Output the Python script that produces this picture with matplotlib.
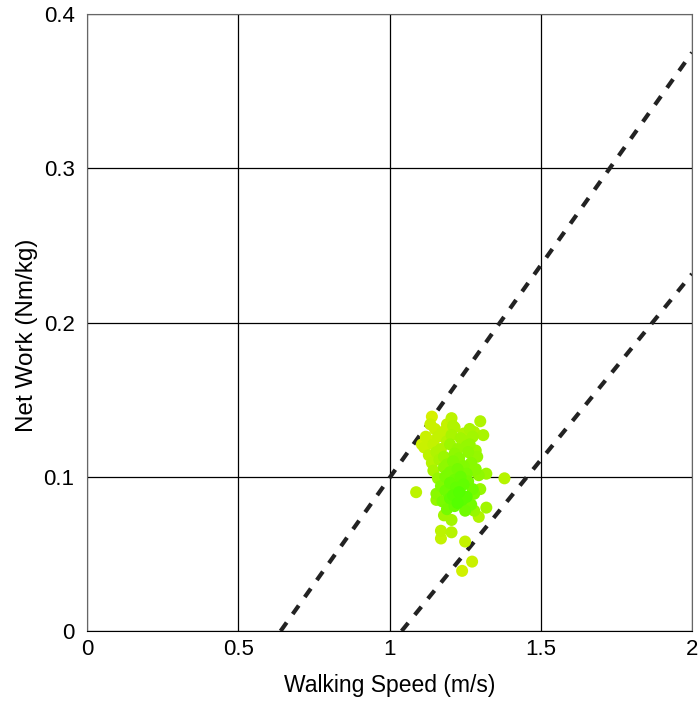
import matplotlib.pyplot as plt
import numpy as np
from matplotlib.colors import LinearSegmentedColormap

plt.rcParams['font.family'] = ['Liberation Sans', 'DejaVu Sans']

# walking speed (m/s), net work (Nm/kg), colour value (0 = green, 1 = yellow)
speed = [1.14, 1.205, 1.19, 1.30, 1.31, 1.107, 1.12, 1.32, 1.38, 1.088,
         1.30, 1.32, 1.295, 1.18, 1.205, 1.17, 1.17, 1.205, 1.25, 1.273,
         1.24, 1.26, 1.28,
         1.15, 1.175, 1.215, 1.245, 1.265, 1.28,
         1.125, 1.16, 1.19, 1.205, 1.235, 1.25, 1.275,
         1.115, 1.145, 1.17, 1.20, 1.225, 1.255, 1.285,
         1.13, 1.155, 1.18, 1.215, 1.23, 1.26, 1.29,
         1.14, 1.165, 1.19, 1.21, 1.245, 1.27,
         1.145, 1.18, 1.20, 1.225, 1.255, 1.285,
         1.16, 1.19, 1.215, 1.235, 1.26, 1.295,
         1.17, 1.20, 1.22, 1.245, 1.275,
         1.155, 1.185, 1.21, 1.23, 1.255, 1.28,
         1.175, 1.20, 1.225, 1.24, 1.27,
         1.19, 1.215, 1.25,
         1.135, 1.21, 1.265, 1.185, 1.24, 1.155, 1.275]
work = [0.139, 0.138, 0.134, 0.136, 0.127, 0.121, 0.126, 0.102, 0.099, 0.090,
        0.092, 0.080, 0.074, 0.075, 0.072, 0.065, 0.060, 0.064, 0.058, 0.045,
        0.039, 0.080, 0.078,
        0.131, 0.129, 0.132, 0.128, 0.131, 0.129,
        0.124, 0.126, 0.123, 0.127, 0.125, 0.123, 0.126,
        0.119, 0.121, 0.118, 0.121, 0.118, 0.120, 0.117,
        0.114, 0.116, 0.113, 0.115, 0.112, 0.116, 0.113,
        0.109, 0.111, 0.108, 0.110, 0.107, 0.109,
        0.104, 0.106, 0.103, 0.105, 0.102, 0.105,
        0.099, 0.101, 0.098, 0.100, 0.097, 0.101,
        0.094, 0.096, 0.093, 0.095, 0.092,
        0.089, 0.091, 0.088, 0.090, 0.087, 0.089,
        0.084, 0.086, 0.083, 0.085, 0.082,
        0.079, 0.081, 0.078,
        0.134, 0.133, 0.121, 0.100, 0.088, 0.085, 0.104]
shade = [1.0, 0.8, 0.85, 0.7, 0.65, 0.95, 0.9, 0.55, 0.75, 0.8,
         0.5, 0.6, 0.7, 0.6, 0.6, 0.8, 0.85, 0.75, 0.85, 0.9,
         0.95, 0.45, 0.5,
         0.9, 0.85, 0.7, 0.7, 0.65, 0.7,
         0.95, 0.85, 0.75, 0.65, 0.6, 0.6, 0.6,
         0.9, 0.85, 0.7, 0.55, 0.5, 0.5, 0.55,
         0.8, 0.7, 0.55, 0.45, 0.4, 0.45, 0.5,
         0.75, 0.65, 0.45, 0.35, 0.35, 0.4,
         0.65, 0.45, 0.3, 0.25, 0.3, 0.4,
         0.5, 0.3, 0.2, 0.15, 0.25, 0.45,
         0.35, 0.15, 0.1, 0.1, 0.2,
         0.4, 0.2, 0.05, 0.0, 0.05, 0.3,
         0.3, 0.1, 0.0, 0.05, 0.25,
         0.25, 0.15, 0.2,
         0.9, 0.7, 0.5, 0.3, 0.1, 0.5, 0.4]

# dashed reference lines (end points)
line1_x = [0.64, 2.0]
line1_y = [0.0, 0.375]
line2_x = [1.04, 2.0]
line2_y = [0.0, 0.2315]

cmap = LinearSegmentedColormap.from_list('gy', ['#55ff00', '#d6f000'])

fig = plt.figure(figsize=(7, 7.03), dpi=100)
ax = fig.add_axes([0.1243, 0.1024, 0.8643, 0.8776])

ax.grid(True, color='black', linewidth=0.9)
ax.set_axisbelow(True)

ax.plot(line1_x, line1_y, color='#222222', linestyle=(0, (2.5, 2.5)), linewidth=3, zorder=2)
ax.plot(line2_x, line2_y, color='#222222', linestyle=(0, (2.5, 2.5)), linewidth=3, zorder=2)

order = np.argsort(shade)[::-1]
ax.scatter(np.array(speed)[order], np.array(work)[order], c=np.array(shade)[order],
           cmap=cmap, vmin=0, vmax=1, s=75, edgecolors='none', zorder=3)

ax.set_xlim(0, 2)
ax.set_ylim(0, 0.4)
ax.set_xticks([0, 0.5, 1, 1.5, 2])
ax.set_xticklabels(['0', '0.5', '1', '1.5', '2'])
ax.set_yticks([0, 0.1, 0.2, 0.3, 0.4])
ax.set_yticklabels(['0', '0.1', '0.2', '0.3', '0.4'])
ax.tick_params(length=0, labelsize=16, pad=9)
ax.tick_params(axis='x', pad=6)

for s in ax.spines.values():
    s.set_color('#666666')
ax.spines['bottom'].set_color('black')

ax.set_xlabel('Walking Speed (m/s)', fontsize=16.5, labelpad=10)
ax.set_ylabel('Net Work (Nm/kg)', fontsize=17.5)
ax.yaxis.set_label_coords(-0.081, 0.48)

fig.savefig('out.png', dpi=100)
